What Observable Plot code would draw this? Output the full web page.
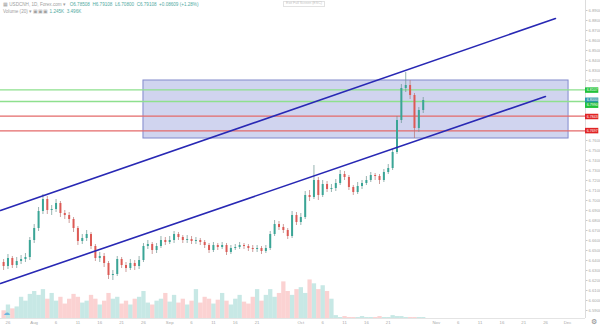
<!DOCTYPE html>
<html><head><meta charset="utf-8">
<script src="https://cdn.jsdelivr.net/npm/d3@7"></script>
<script src="https://cdn.jsdelivr.net/npm/@observablehq/plot@0.6"></script>
<style>
body{margin:0;background:#fff;}
#wrap{position:relative;width:600px;height:326px;overflow:hidden;font-family:"Liberation Sans",Arial,sans-serif;background:#fff;}
#wrap svg{position:absolute;left:0;top:0;}
.hdr{position:absolute;font-size:4.6px;color:#a0a0a0;white-space:nowrap;line-height:1;}
.v{color:#52aaa2;}
</style></head><body><div id="wrap"></div>
<script>
// ---- data ----
const startDate = "2018-07-25";
const firstOpen = 6.638;
const closes = [6.634,6.642,6.635,6.639,6.641,6.643,6.660,6.672,6.689,6.701,
6.690,6.691,6.697,6.687,6.685,6.681,6.672,6.659,6.662,6.666,
6.654,6.642,6.644,6.637,6.625,6.626,6.641,6.635,6.632,6.637,
6.634,6.640,6.654,6.656,6.650,6.654,6.660,6.658,6.660,6.666,
6.663,6.660,6.661,6.659,6.660,6.658,6.655,6.650,6.655,6.653,
6.655,6.648,6.652,6.653,6.655,6.654,6.652,6.651,6.652,6.649,
6.652,6.666,6.676,6.673,6.670,6.664,6.685,6.678,6.683,6.705,
6.703,6.720,6.705,6.716,6.711,6.712,6.717,6.726,6.723,6.713,
6.708,6.714,6.717,6.720,6.725,6.724,6.720,6.728,6.732,6.748,
6.780,6.812,6.815,6.805,6.772,6.790,6.800];
const highs = [6.641,6.646,6.644,6.643,6.645,6.647,6.663,6.676,6.693,6.706,
6.704,6.695,6.701,6.699,6.690,6.688,6.683,6.674,6.666,6.670,
6.668,6.656,6.648,6.647,6.639,6.630,6.644,6.643,6.638,6.641,
6.640,6.644,6.657,6.660,6.658,6.657,6.664,6.663,6.664,6.669,
6.668,6.665,6.665,6.664,6.663,6.662,6.660,6.657,6.658,6.657,
6.658,6.657,6.655,6.656,6.658,6.657,6.656,6.655,6.655,6.654,
6.655,6.669,6.680,6.679,6.676,6.672,6.689,6.688,6.687,6.709,
6.710,6.735,6.723,6.720,6.719,6.716,6.721,6.730,6.729,6.725,
6.715,6.718,6.720,6.724,6.728,6.727,6.726,6.731,6.736,6.751,
6.784,6.816,6.828,6.820,6.807,6.793,6.803];
const lows = [6.630,6.631,6.632,6.632,6.636,6.638,6.640,6.657,6.669,6.686,
6.686,6.685,6.688,6.683,6.681,6.677,6.668,6.655,6.656,6.659,
6.651,6.639,6.638,6.633,6.621,6.620,6.624,6.632,6.628,6.630,
6.630,6.631,6.638,6.651,6.646,6.647,6.652,6.655,6.656,6.657,
6.660,6.657,6.657,6.656,6.656,6.655,6.652,6.647,6.648,6.650,
6.651,6.645,6.646,6.650,6.651,6.651,6.649,6.648,6.648,6.646,
6.647,6.650,6.664,6.670,6.667,6.661,6.662,6.675,6.675,6.681,
6.699,6.701,6.700,6.703,6.708,6.708,6.709,6.715,6.720,6.710,
6.705,6.706,6.711,6.715,6.718,6.720,6.716,6.718,6.726,6.730,
6.746,6.777,6.808,6.801,6.762,6.768,6.787];
const volumes = [8,14,10,12,22,18,25,28,24,30,
20,26,18,22,15,20,25,22,16,18,
24,20,14,18,26,20,22,15,18,14,
20,22,28,16,14,18,20,26,17,24,
16,20,14,18,30,16,22,20,15,19,
26,18,14,20,24,17,15,22,30,18,
24,30,22,26,38,28,24,30,32,26,
40,36,30,34,28,20,3,1,2,1,
1,1,2,1,1,1,2,1,1,3,
2,2,1,1,1,1,1];

// view window
const xStart = new Date("2018-07-24T07:00Z");
const xEnd = new Date("2018-12-05T03:00Z");
const xTagEnd = new Date("2018-12-08T04:00Z");
const priceMin = 6.582, priceMax = 6.900;
const priceTicks = d3.range(6.59, 6.895, 0.01);

// drawings
const upperChannel = [{date:"2018-07-24T07:00Z", price:6.690},{date:"2018-11-28T06:00Z", price:6.882}];
const lowerChannel = [{date:"2018-07-24T07:00Z", price:6.617},{date:"2018-11-25T23:00Z", price:6.804}];
const zoneBox = [{x1:"2018-08-26T00:00Z", x2:"2018-12-01T06:00Z", y1:6.762, y2:6.820}];
const levelPrices = [6.8107, 6.7990, 6.7843, 6.7697];
const levelColors = ["#8ee08e", "#8ee08e", "#e46a6a", "#e46a6a"];
const tagPrices = [6.8104, 6.8002, 6.7953, 6.7840, 6.7699];
const tagTexts = ["6.8107", "6.8000", "6.7990", "6.7843", "6.7697"];
const tagColors = ["#22c23a", "#2c98a6", "#22c23a", "#e02424", "#e02424"];

const xTickDates = ["2018-07-26","2018-08-01","2018-08-06","2018-08-11","2018-08-16","2018-08-21","2018-08-26",
"2018-09-01","2018-09-06","2018-09-11","2018-09-16","2018-09-21",
"2018-10-01","2018-10-06","2018-10-11","2018-10-16","2018-10-21",
"2018-11-01","2018-11-06","2018-11-11","2018-11-16","2018-11-21","2018-11-26","2018-12-01"];
const xTickLabels = ["26","Aug","6","11","16","21","26","Sep","6","11","16","21","Oct","6","11","16","21","Nov","6","11","16","21","26","Dec"];

// ---- build ----
const rows = closes.map((c, i) => ({
  date: d3.utcDay.offset(new Date(startDate + "T00:00Z"), i),
  open: i ? closes[i - 1] : firstOpen,
  close: c, high: highs[i], low: lows[i], vol: volumes[i]
}));
const parse = s => new Date(s);
const upper = upperChannel.map(d => ({date: parse(d.date), price: d.price}));
const lower = lowerChannel.map(d => ({date: parse(d.date), price: d.price}));
const box = zoneBox.map(d => ({x1: parse(d.x1), x2: parse(d.x2), y1: d.y1, y2: d.y2}));
const levels = levelPrices.map((p, i) => ({price: p, color: levelColors[i]}));
const tags = tagPrices.map((p, i) => ({price: p, text: tagTexts[i], color: tagColors[i], a: xEnd, b: xTagEnd}));
const tickDates = xTickDates.map(s => new Date(s + "T00:00Z"));
const tickLabelMap = new Map(tickDates.map((d, i) => [+d, xTickLabels[i]]));
// price labels hidden behind the coloured tags, as on the original axis
const shownTicks = priceTicks.filter(t => tagPrices.every(p => Math.abs(p - t) > 0.0058));

const W = 600, H = 326;
const common = {width: W, height: H, marginLeft: 0, marginRight: 15, marginTop: 0, marginBottom: 8,
  style: {background: "transparent", fontFamily: "Liberation Sans, Arial, sans-serif"}};
const up = d => d.close >= d.open;

const volPlot = Plot.plot({
  ...common,
  x: {type: "utc", domain: [xStart, xEnd], axis: null},
  y: {domain: [0, 330], axis: null},
  marks: [
    Plot.ruleX(rows, {x: "date", y1: 0, y2: "vol", strokeWidth: 4.3,
      stroke: d => up(d) ? "rgba(38,166,154,0.26)" : "rgba(239,83,80,0.26)"})
  ]
});

const mainPlot = Plot.plot({
  ...common,
  x: {type: "utc", domain: [xStart, xEnd], axis: null},
  y: {domain: [priceMin, priceMax], axis: null},
  marks: [
    Plot.rect(box, {x1: "x1", x2: "x2", y1: "y1", y2: "y2", fill: "#c3c8ea", fillOpacity: 0.78, stroke: "#8189cc", strokeWidth: 1}),
    Plot.ruleY(levels, {y: "price", stroke: "color", strokeWidth: 1.3}),
    Plot.ruleX(rows, {x: "date", y1: "low", y2: "high", strokeWidth: 0.7,
      stroke: d => up(d) ? "#6a948f" : "#b87572"}),
    Plot.ruleX(rows, {x: "date", y1: "open", y2: "close", strokeWidth: 2.0,
      stroke: d => up(d) ? "#3aa596" : "#dd5a55"}),
    Plot.line(upper, {x: "date", y: "price", stroke: "#2828b4", strokeWidth: 1.6}),
    Plot.line(lower, {x: "date", y: "price", stroke: "#2828b4", strokeWidth: 1.6}),
    Plot.ruleX([xEnd], {stroke: "#dcdcdc", strokeWidth: 1}),
    Plot.ruleY([priceMin], {stroke: "#e4e4e4", strokeWidth: 1}),
    Plot.axisY({anchor: "right", ticks: shownTicks, tickFormat: d => d.toFixed(4), tickSize: 1.5, tickPadding: 1.5,
      fontSize: 4.2, fill: "#a8a8a8", stroke: "#c8c8c8"}),
    Plot.axisX({ticks: tickDates, tickFormat: d => tickLabelMap.get(+d) ?? "", tickSize: 0, tickPadding: 2.2,
      fontSize: 4.3, fill: "#a8a8a8"}),
    Plot.ruleY(tags, {y: "price", x1: "a", x2: "b", stroke: "color", strokeWidth: 5.5}),
    Plot.text(tags, {x: "a", y: "price", text: "text", dx: 6.8, fill: "white", fontSize: 3.6, textAnchor: "middle"})
  ]
});

const wrap = document.getElementById("wrap");
wrap.appendChild(volPlot);
wrap.appendChild(mainPlot);

function addHtml(html, left, top, cls = "hdr", extra = "") {
  const el = document.createElement("div");
  el.className = cls;
  el.style.left = left + "px";
  el.style.top = top + "px";
  if (extra) el.style.cssText += extra;
  el.innerHTML = html;
  wrap.appendChild(el);
}
addHtml('▦ USDCNH, 1D, Forex.com ▾ &nbsp; <span class="v">O6.78508 &nbsp;H6.79108 &nbsp;L6.70800 &nbsp;C6.79108 &nbsp;+0.08609 (+1.28%)</span>', 3, 2.5);
addHtml('Volume (20) ▾ ▣▣▣ <span class="v">1.245K &nbsp;3.496K</span>', 3, 9.5);
addHtml('Exit Full Screen (ESC)', 283, 0.5, "hdr", "font-size:3.6px;color:#c4c4c4;border:0.5px solid #e2e2e2;padding:0.5px 2px;");
addHtml('⚙', 591, 318.5, "hdr", "font-size:6.5px;color:#888;");
addHtml('☁', 3, 309, "hdr", "font-size:7px;color:#6fb6dc;");
</script></body></html>
